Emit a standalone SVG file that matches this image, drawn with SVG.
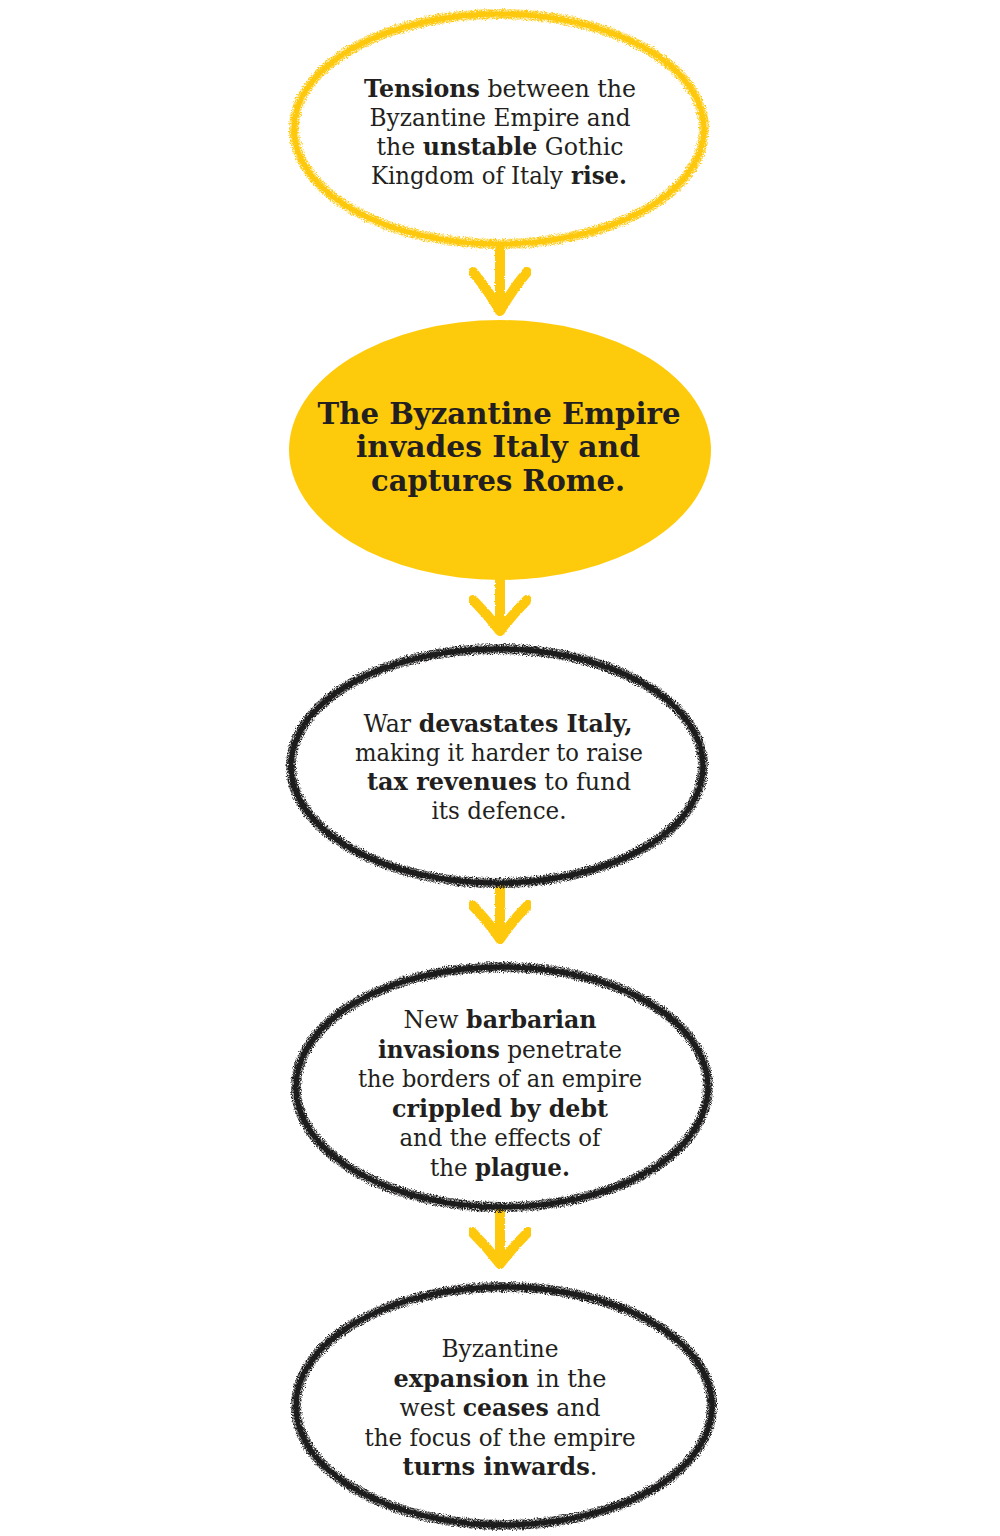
<svg xmlns="http://www.w3.org/2000/svg" width="1000" height="1536" viewBox="0 0 1000 1536">
  <defs>
    <!-- grainy crayon edge for the hand-drawn outlines -->
    <filter id="crayon" x="-5%" y="-5%" width="110%" height="110%">
      <feTurbulence type="fractalNoise" baseFrequency="0.9" numOctaves="2" seed="3" result="noise"/>
      <feDisplacementMap in="SourceGraphic" in2="noise" scale="5" xChannelSelector="R" yChannelSelector="G" result="rough"/>
      <feTurbulence type="fractalNoise" baseFrequency="1.6" numOctaves="1" seed="7" result="grain"/>
      <feColorMatrix in="grain" type="matrix" values="0 0 0 0 0  0 0 0 0 0  0 0 0 0 0  0 0 0 -2.6 2.0" result="grainA"/>
      <feComposite in="rough" in2="grainA" operator="in"/>
    </filter>
    <!-- slight wobble for the solid core of a stroke -->
    <filter id="soft" x="-5%" y="-5%" width="110%" height="110%">
      <feTurbulence type="fractalNoise" baseFrequency="0.7" numOctaves="2" seed="5" result="n"/>
      <feDisplacementMap in="SourceGraphic" in2="n" scale="2.5" xChannelSelector="R" yChannelSelector="G"/>
    </filter>
  </defs>
  <style>
    .bg { fill: #ffffff; }
    .edge-y { fill: none; stroke: #ffc90e; stroke-width: 10; }
    .core-y { fill: none; stroke: #fec80d; stroke-width: 5; }
    .edge-k { fill: none; stroke: #1c1a1a; stroke-width: 10; }
    .core-k { fill: none; stroke: #1c1a1a; stroke-width: 5; }
    .blob { fill: #fecb0c; }
    .arrow { fill: none; stroke: #fec80d; stroke-width: 10; stroke-linecap: round; stroke-linejoin: round; }
    .t { font-family: "DejaVu Serif", "Liberation Serif", serif; font-size: 24px; fill: #231f20; text-anchor: middle; font-weight: 300; }
    .t tspan.b, .t.b { font-weight: 700; }
    .big { font-family: "DejaVu Serif", "Liberation Serif", serif; font-size: 29px; font-weight: 700; fill: #231f20; text-anchor: middle; }
  </style>

  <rect class="bg" x="0" y="0" width="1000" height="1536"/>

  <!-- connectors -->
  <g id="connectors" filter="url(#soft)">
    <g id="arrow-1">
      <path class="arrow" d="M500 250 L500 310"/>
      <path class="arrow" d="M473 272 Q488 290 500 311 Q512 290 527 272"/>
    </g>
    <g id="arrow-2">
      <path class="arrow" d="M500 580 L500 630"/>
      <path class="arrow" d="M473 600 Q488 615 500 631 Q512 615 527 600"/>
    </g>
    <g id="arrow-3">
      <path class="arrow" d="M500 888 L500 938"/>
      <path class="arrow" d="M472 905 Q487 920 500 939 Q513 920 528 905"/>
    </g>
    <g id="arrow-4">
      <path class="arrow" d="M500 1212 L500 1263"/>
      <path class="arrow" d="M472 1232 Q487 1247 500 1264 Q513 1247 528 1232"/>
    </g>
  </g>

  <!-- node 1: tensions -->
  <g id="node-tensions">
    <ellipse class="edge-y" cx="499" cy="129" rx="205" ry="115" filter="url(#crayon)"/>
    <ellipse class="core-y" cx="499" cy="129" rx="205" ry="115" filter="url(#soft)"/>
    <text class="t" x="500" y="97" textLength="272" lengthAdjust="spacingAndGlyphs"><tspan class="b">Tensions</tspan> between the</text>
    <text class="t" x="500" y="126" textLength="261" lengthAdjust="spacingAndGlyphs">Byzantine Empire and</text>
    <text class="t" x="500" y="155" textLength="247" lengthAdjust="spacingAndGlyphs">the <tspan class="b">unstable</tspan> Gothic</text>
    <text class="t" x="563" y="184" style="text-anchor:end" textLength="192" lengthAdjust="spacingAndGlyphs">Kingdom of Italy</text>
    <text class="t b" x="571" y="184" style="text-anchor:start" textLength="56" lengthAdjust="spacingAndGlyphs">rise.</text>
  </g>

  <!-- node 2: invasion (highlighted) -->
  <g id="node-invasion">
    <ellipse class="blob" cx="500" cy="450" rx="211" ry="130"/>
    <text class="big" x="499" y="424" textLength="363" lengthAdjust="spacingAndGlyphs">The Byzantine Empire</text>
    <text class="big" x="498" y="457" textLength="284" lengthAdjust="spacingAndGlyphs">invades Italy and</text>
    <text class="big" x="498" y="491" textLength="254" lengthAdjust="spacingAndGlyphs">captures Rome.</text>
  </g>

  <!-- node 3: war -->
  <g id="node-war">
    <ellipse class="edge-k" cx="497" cy="766" rx="206" ry="117" filter="url(#crayon)"/>
    <ellipse class="core-k" cx="497" cy="766" rx="206" ry="117" filter="url(#soft)"/>
    <text class="t" x="498" y="732" textLength="269" lengthAdjust="spacingAndGlyphs">War <tspan class="b">devastates Italy,</tspan></text>
    <text class="t" x="499" y="761" textLength="288" lengthAdjust="spacingAndGlyphs">making it harder to raise</text>
    <text class="t" x="499" y="790" textLength="264" lengthAdjust="spacingAndGlyphs"><tspan class="b">tax revenues</tspan> to fund</text>
    <text class="t" x="499" y="819" textLength="135" lengthAdjust="spacingAndGlyphs">its defence.</text>
  </g>

  <!-- node 4: barbarians -->
  <g id="node-barbarians">
    <ellipse class="edge-k" cx="502" cy="1087" rx="206" ry="120" filter="url(#crayon)"/>
    <ellipse class="core-k" cx="502" cy="1087" rx="206" ry="120" filter="url(#soft)"/>
    <text class="t" x="500" y="1028" textLength="193" lengthAdjust="spacingAndGlyphs">New <tspan class="b">barbarian</tspan></text>
    <text class="t" x="500" y="1058" textLength="244" lengthAdjust="spacingAndGlyphs"><tspan class="b">invasions</tspan> penetrate</text>
    <text class="t" x="500" y="1087" textLength="284" lengthAdjust="spacingAndGlyphs">the borders of an empire</text>
    <text class="t" x="500" y="1117" textLength="216" lengthAdjust="spacingAndGlyphs"><tspan class="b">crippled by debt</tspan></text>
    <text class="t" x="500" y="1146" textLength="201" lengthAdjust="spacingAndGlyphs">and the effects of</text>
    <text class="t" x="500" y="1176" textLength="140" lengthAdjust="spacingAndGlyphs">the <tspan class="b">plague.</tspan></text>
  </g>

  <!-- node 5: focus turns inwards -->
  <g id="node-inwards">
    <ellipse class="edge-k" cx="504" cy="1406" rx="208" ry="119" filter="url(#crayon)"/>
    <ellipse class="core-k" cx="504" cy="1406" rx="208" ry="119" filter="url(#soft)"/>
    <text class="t" x="500" y="1357" textLength="117" lengthAdjust="spacingAndGlyphs">Byzantine</text>
    <text class="t" x="500" y="1387" textLength="213" lengthAdjust="spacingAndGlyphs"><tspan class="b">expansion</tspan> in the</text>
    <text class="t" x="500" y="1416" textLength="201" lengthAdjust="spacingAndGlyphs">west <tspan class="b">ceases</tspan> and</text>
    <text class="t" x="500" y="1446" textLength="271" lengthAdjust="spacingAndGlyphs">the focus of the empire</text>
    <text class="t" x="500" y="1475" textLength="195" lengthAdjust="spacingAndGlyphs"><tspan class="b">turns inwards</tspan>.</text>
  </g>
</svg>
